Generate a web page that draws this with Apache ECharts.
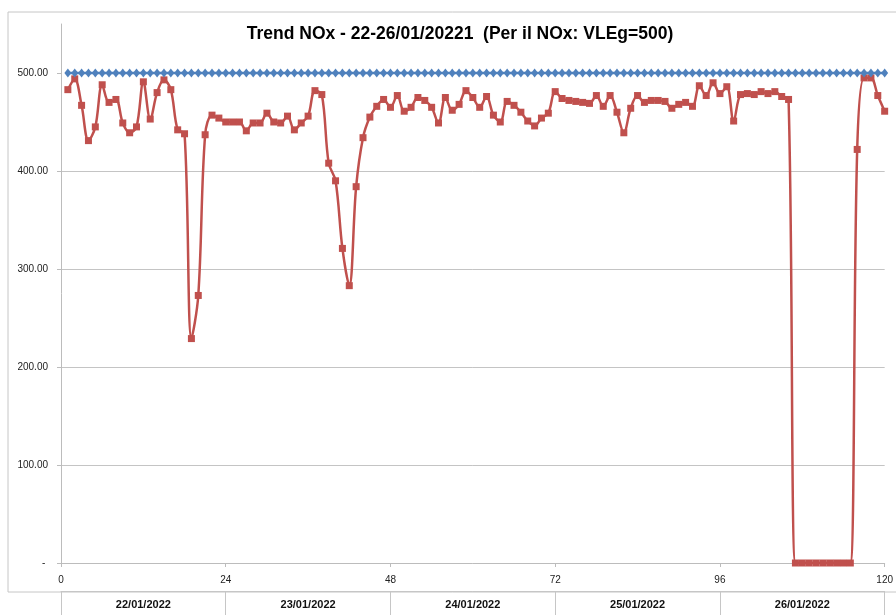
<!DOCTYPE html>
<html>
<head>
<meta charset="utf-8">
<script src="https://cdn.jsdelivr.net/npm/echarts@6/dist/echarts.min.js"></script>
<style>
html,body{margin:0;padding:0;background:#fff;}
#chart{width:896px;height:615px;}
</style>
</head>
<body>
<div id="chart"></div>
<script>
// ---- data ----
const titleText = 'Trend NOx - 22-26/01/20221  (Per il NOx: VLEg=500)';
const hours = [
  1,2,3,4,5,6,7,8,9,10,11,12,13,14,15,16,17,18,19,20,
  21,22,23,24,25,26,27,28,29,30,31,32,33,34,35,36,37,38,39,40,
  41,42,43,44,45,46,47,48,49,50,51,52,53,54,55,56,57,58,59,60,
  61,62,63,64,65,66,67,68,69,70,71,72,73,74,75,76,77,78,79,80,
  81,82,83,84,85,86,87,88,89,90,91,92,93,94,95,96,97,98,99,100,
  101,102,103,104,105,106,107,108,109,110,111,112,113,114,115,116,117,118,119,120
];
const noxValues = [
  483,494,467,431,445,488,470,473,449,439,
  445,491,453,480,493,483,442,438,229,273,
  437,457,454,450,450,450,441,449,449,459,
  450,449,456,442,449,456,482,478,408,390,
  321,283,384,434,455,466,473,465,477,461,
  465,475,472,465,449,475,462,468,482,475,
  465,476,457,450,471,467,460,451,446,454,
  459,481,474,472,471,470,469,477,466,477,
  460,439,464,477,470,472,472,471,464,468,
  470,466,487,477,490,479,486,451,478,479,
  478,481,479,481,476,473,0,0,0,0,
  0,0,0,0,0,422,495,495,477,461
];
const limitValues = [
  500,500,500,500,500,500,500,500,500,500,500,500,500,500,500,500,500,500,500,500,
  500,500,500,500,500,500,500,500,500,500,500,500,500,500,500,500,500,500,500,500,
  500,500,500,500,500,500,500,500,500,500,500,500,500,500,500,500,500,500,500,500,
  500,500,500,500,500,500,500,500,500,500,500,500,500,500,500,500,500,500,500,500,
  500,500,500,500,500,500,500,500,500,500,500,500,500,500,500,500,500,500,500,500,
  500,500,500,500,500,500,500,500,500,500,500,500,500,500,500,500,500,500,500,500
];
const xTicks = [0, 24, 48, 72, 96, 120];
const yTicks = [0, 100, 200, 300, 400, 500];
const dates = ['22/01/2022', '23/01/2022', '24/01/2022', '25/01/2022', '26/01/2022'];

// ---- chart ----
const FONT = 'Liberation Sans, Arial, sans-serif';
const chart = echarts.init(document.getElementById('chart'), null, {renderer: 'canvas'});
const noxData = hours.map((h, i) => [h, noxValues[i]]);
const limitData = hours.map((h, i) => [h, limitValues[i]]);

chart.setOption({
  animation: false,
  backgroundColor: '#fff',
  title: {
    text: titleText,
    left: 455,
    top: 20,
    textAlign: 'center',
    textStyle: {fontFamily: FONT, fontSize: 17.5, fontWeight: 'bold', color: '#000'}
  },
  graphic: [{
    type: 'rect', silent: true, z: -10,
    shape: {x: 8, y: 12, width: 900, height: 580},
    style: {fill: 'none', stroke: '#c6c6c6', lineWidth: 1}
  }],
  grid: {left: 61, right: 10, top: 24, bottom: 52, containLabel: false},
  xAxis: [{
    type: 'value',
    min: xTicks[0], max: xTicks[xTicks.length - 1], interval: 24,
    axisLine: {show: true, lineStyle: {color: '#bcbcbc', width: 1}},
    axisTick: {show: true, length: 4, lineStyle: {color: '#bcbcbc'}},
    axisLabel: {fontFamily: FONT, fontSize: 10, color: '#222', margin: 12},
    splitLine: {show: false}
  }, {
    type: 'category',
    data: dates,
    position: 'bottom',
    offset: 28,
    boundaryGap: true,
    axisLine: {show: true, lineStyle: {color: '#c6c6c6', width: 1}},
    axisTick: {show: true, length: 26, lineStyle: {color: '#c6c6c6'}},
    axisLabel: {fontFamily: FONT, fontSize: 11, fontWeight: 'bold', color: '#111', margin: 8},
    splitLine: {show: false}
  }],
  yAxis: {
    type: 'value',
    min: 0, max: 550, interval: 100,
    axisLine: {show: true, lineStyle: {color: '#bcbcbc', width: 1}},
    axisTick: {show: true, length: 4, lineStyle: {color: '#bcbcbc'}, customValues: yTicks},
    axisLabel: {
      fontFamily: FONT, fontSize: 10, color: '#222', margin: 13,
      customValues: yTicks,
      formatter: v => (v === 0 ? '- ' : v.toFixed(2))
    },
    splitLine: {show: true, showMinLine: false, showMaxLine: false, lineStyle: {color: '#c4c4c4', width: 1}}
  },
  series: [{
    name: 'NOx',
    type: 'line',
    data: noxData,
    smooth: 0.35,
    symbol: 'rect',
    symbolSize: 7,
    lineStyle: {color: '#C0504D', width: 2.5},
    itemStyle: {color: '#C0504D'},
    z: 2
  }, {
    name: 'VLEg',
    type: 'line',
    data: limitData,
    symbol: 'diamond',
    symbolSize: [7, 9],
    lineStyle: {color: '#4F81BD', width: 2.5},
    itemStyle: {color: '#4F81BD'},
    z: 3
  }]
});
</script>
</body>
</html>
